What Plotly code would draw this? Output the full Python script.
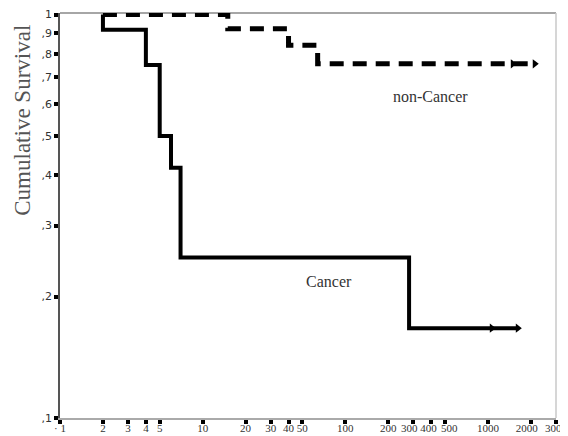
import plotly.graph_objects as go
import math

# Cancer group (solid): step times and survival values
cancer_t = [2, 2, 4, 4, 5, 5, 6, 6, 7, 7, 280, 280, 1620]
cancer_s = [1.0, 0.917, 0.917, 0.75, 0.75, 0.5, 0.5, 0.417, 0.417, 0.25, 0.25, 0.167, 0.167]
cancer_cens_t = [1065, 1620]
cancer_cens_s = [0.167, 0.167]

# non-Cancer group (dashed)
noncancer_t = [2, 15, 15, 40, 40, 64, 64, 2130]
noncancer_s = [1.0, 1.0, 0.923, 0.923, 0.84, 0.84, 0.755, 0.755]
noncancer_cens_t = [1494, 2130]
noncancer_cens_s = [0.755, 0.755]

NB = "\u00a0"
x_ticks = [1, 2, 3, 4, 5, 10, 20, 30, 40, 50, 100, 200, 300, 400, 500, 1000, 2000, 3000]
x_ticktext = ["·" + NB + "1", "2", "3", "4", "5", "10", "20", "30", "40", "50", "100", "200",
              "300" + NB * 3, "400" + NB * 2, NB * 3 + "500", "1000", "2000" + NB * 3, "3000"]
y_ticks = [0.1, 0.2, 0.3, 0.4, 0.5, 0.6, 0.7, 0.8, 0.9, 1.0]
y_ticktext = [",1", ",2", ",3", ",4", ",5", ",6", ",7", ",8", ",9", "1"]

fig = go.Figure()
fig.add_trace(go.Scatter(x=noncancer_t, y=noncancer_s, mode="lines",
                         line=dict(color="black", width=5, dash="14px,9px"),
                         showlegend=False, cliponaxis=False))
fig.add_trace(go.Scatter(x=noncancer_cens_t, y=noncancer_cens_s, mode="markers",
                         marker=dict(symbol="triangle-right", size=8, color="black"),
                         showlegend=False, cliponaxis=False))
fig.add_trace(go.Scatter(x=cancer_t, y=cancer_s, mode="lines",
                         line=dict(color="black", width=4),
                         showlegend=False, cliponaxis=False))
fig.add_trace(go.Scatter(x=cancer_cens_t, y=cancer_cens_s, mode="markers",
                         marker=dict(symbol="triangle-right", size=8, color="black"),
                         showlegend=False, cliponaxis=False))

fig.add_annotation(x=math.log10(77), y=math.log10(0.218), text="Cancer", showarrow=False,
                   font=dict(family="Liberation Serif", size=16, color="#333"))
fig.add_annotation(x=math.log10(398), y=math.log10(0.627), text="non-Cancer", showarrow=False,
                   font=dict(family="Liberation Serif", size=16, color="#333"))
# y-axis title
fig.add_annotation(xref="paper", yref="paper", x=-0.075, y=0.736, text="Cumulative Survival",
                   textangle=-90, showarrow=False, xanchor="center", yanchor="middle",
                   font=dict(family="Liberation Serif", size=23, color="#555"))

# top and right frame lines
fig.add_shape(type="line", xref="paper", yref="paper", x0=0, x1=1, y0=1, y1=1,
              line=dict(color="#888", width=1.5), layer="below")
fig.add_shape(type="line", xref="paper", yref="paper", x0=1, x1=1, y0=0, y1=1,
              line=dict(color="#c8c8c8", width=1.5), layer="below")

fig.update_xaxes(type="log", range=[0, math.log10(3000)], tickvals=x_ticks,
                 ticktext=x_ticktext, tickangle=0, automargin=False, ticklabelstandoff=-5,
                 showgrid=False, zeroline=False, showline=True, linecolor="#aaa", linewidth=1.5,
                 ticks="outside", ticklen=4, tickwidth=4, tickcolor="black",
                 tickfont=dict(family="Liberation Serif", size=11, color="#333"))
fig.update_yaxes(type="log", range=[-1, 0.004], tickvals=y_ticks, ticktext=y_ticktext,
                 automargin=False,
                 showgrid=False, zeroline=False, showline=True, linecolor="#555", linewidth=1.5,
                 ticks="outside", ticklen=4, tickwidth=4, tickcolor="black",
                 tickfont=dict(family="DejaVu Sans", size=11, color="#333"))

fig.update_layout(width=560, height=428, margin=dict(l=52, r=12, t=5, b=18, autoexpand=False),
                  plot_bgcolor="white", paper_bgcolor="white")

fig.write_html("out.html")
